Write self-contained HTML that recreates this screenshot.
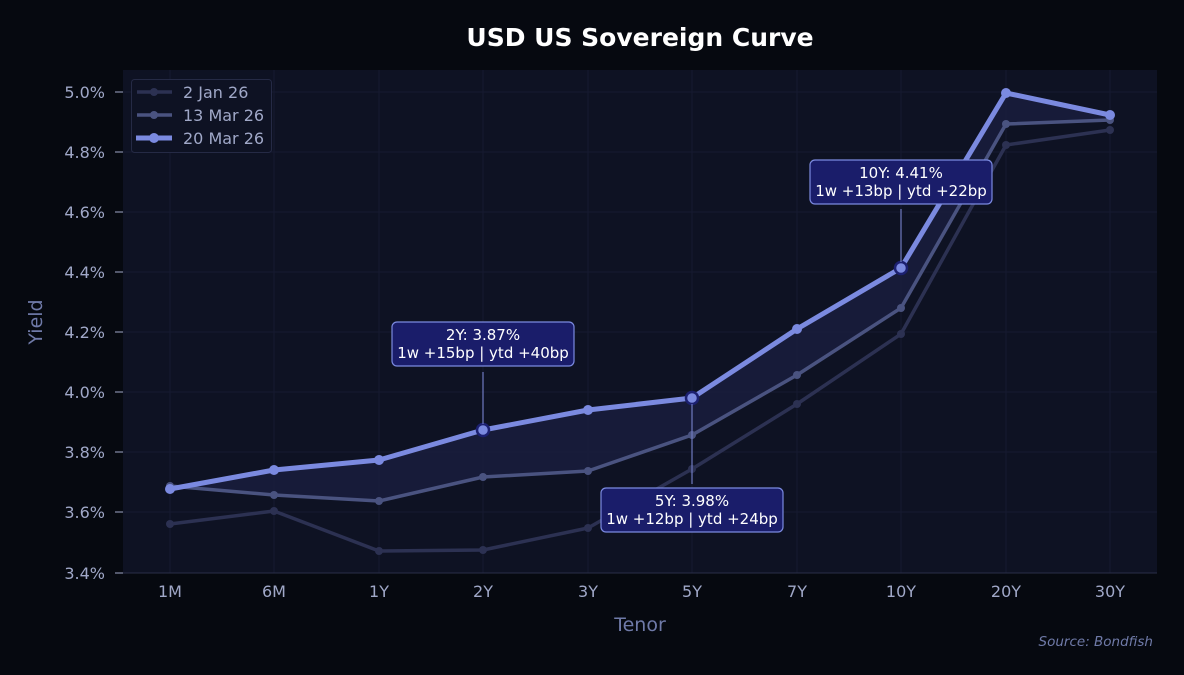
<!DOCTYPE html>
<html><head><meta charset="utf-8"><style>
html,body{margin:0;padding:0;background:#070a12;}
svg{display:block;font-family:"DejaVu Sans","Liberation Sans",sans-serif;}
</style></head><body>
<svg width="1184" height="675" viewBox="0 0 1184 675">
<rect width="1184" height="675" fill="#060910"/>
<text x="640" y="46" text-anchor="middle" fill="#ffffff" font-size="25" font-weight="bold">USD US Sovereign Curve</text>
<rect x="123" y="70" width="1034" height="503" fill="#0e1223"/>
<g stroke="#161a30" stroke-width="1">
<line x1="123" x2="1157" y1="92" y2="92"/><line x1="123" x2="1157" y1="152" y2="152"/><line x1="123" x2="1157" y1="212" y2="212"/><line x1="123" x2="1157" y1="272" y2="272"/><line x1="123" x2="1157" y1="332" y2="332"/><line x1="123" x2="1157" y1="392" y2="392"/><line x1="123" x2="1157" y1="452" y2="452"/><line x1="123" x2="1157" y1="512" y2="512"/>
<line y1="70" y2="573" x1="170" x2="170"/><line y1="70" y2="573" x1="274" x2="274"/><line y1="70" y2="573" x1="379" x2="379"/><line y1="70" y2="573" x1="483" x2="483"/><line y1="70" y2="573" x1="588" x2="588"/><line y1="70" y2="573" x1="692" x2="692"/><line y1="70" y2="573" x1="797" x2="797"/><line y1="70" y2="573" x1="901" x2="901"/><line y1="70" y2="573" x1="1006" x2="1006"/><line y1="70" y2="573" x1="1110" x2="1110"/>
</g>
<line x1="123" x2="1157" y1="573" y2="573" stroke="#2a2f48"/>
<g fill="#a0a8c8" font-size="16" text-anchor="end">
<text x="105" y="98">5.0%</text><text x="105" y="158">4.8%</text><text x="105" y="218">4.6%</text><text x="105" y="278">4.4%</text><text x="105" y="338">4.2%</text><text x="105" y="398">4.0%</text><text x="105" y="458">3.8%</text><text x="105" y="518">3.6%</text><text x="105" y="579">3.4%</text>
</g>
<g stroke="#a0a8c8"><line x1="115" x2="123" y1="92" y2="92"/><line x1="115" x2="123" y1="152" y2="152"/><line x1="115" x2="123" y1="212" y2="212"/><line x1="115" x2="123" y1="272" y2="272"/><line x1="115" x2="123" y1="332" y2="332"/><line x1="115" x2="123" y1="392" y2="392"/><line x1="115" x2="123" y1="452" y2="452"/><line x1="115" x2="123" y1="512" y2="512"/><line x1="115" x2="123" y1="573" y2="573"/></g>
<g fill="#a0a8c8" font-size="16" text-anchor="middle">
<text x="170" y="597">1M</text><text x="274" y="597">6M</text><text x="379" y="597">1Y</text><text x="483" y="597">2Y</text><text x="588" y="597">3Y</text><text x="692" y="597">5Y</text><text x="797" y="597">7Y</text><text x="901" y="597">10Y</text><text x="1006" y="597">20Y</text><text x="1110" y="597">30Y</text>
</g>
<text x="640" y="631" text-anchor="middle" fill="#6f7aa8" font-size="19">Tenor</text>
<text x="42" y="322" text-anchor="middle" fill="#6f7aa8" font-size="19" transform="rotate(-90 42 322)">Yield</text>
<text x="1153" y="646" text-anchor="end" fill="#6f7aa8" font-size="13.5" font-style="italic">Source: Bondfish</text>
<polygon fill="#1a1e3e" opacity="0.8" points="170,489 274,470 379,460 483,430 588,410 692,398 797,329 901,268 1006,93 1110,115 1110,120 1006,124 901,308 797,375 692,435 588,471 483,477 379,501 274,495 170,486"/>
<g fill="none" stroke-linejoin="round">
<polyline stroke="#2c3152" stroke-width="3.5" points="170,524 274,511 379,551 483,550 588,528 692,469 797,404 901,334 1006,145 1110,130"/>
<polyline stroke="#4a5380" stroke-width="3.5" points="170,486 274,495 379,501 483,477 588,471 692,435 797,375 901,308 1006,124 1110,120"/>
<polyline stroke="#7b8ae0" stroke-width="5" points="170,489 274,470 379,460 483,430 588,410 692,398 797,329 901,268 1006,93 1110,115"/>
</g>
<g fill="#2c3152"><circle cx="170" cy="524" r="4"/><circle cx="274" cy="511" r="4"/><circle cx="379" cy="551" r="4"/><circle cx="483" cy="550" r="4"/><circle cx="588" cy="528" r="4"/><circle cx="692" cy="469" r="4"/><circle cx="797" cy="404" r="4"/><circle cx="901" cy="334" r="4"/><circle cx="1006" cy="145" r="4"/><circle cx="1110" cy="130" r="4"/></g>
<g fill="#4a5380"><circle cx="170" cy="486" r="4"/><circle cx="274" cy="495" r="4"/><circle cx="379" cy="501" r="4"/><circle cx="483" cy="477" r="4"/><circle cx="588" cy="471" r="4"/><circle cx="692" cy="435" r="4"/><circle cx="797" cy="375" r="4"/><circle cx="901" cy="308" r="4"/><circle cx="1006" cy="124" r="4"/><circle cx="1110" cy="120" r="4"/></g>
<g fill="#7b8ae0"><circle cx="170" cy="489" r="5"/><circle cx="274" cy="470" r="5"/><circle cx="379" cy="460" r="5"/><circle cx="588" cy="410" r="5"/><circle cx="797" cy="329" r="5"/><circle cx="1006" cy="93" r="5"/><circle cx="1110" cy="115" r="5"/></g>
<g fill="#7b8ae0" stroke="#1c2070" stroke-width="2.5"><circle cx="483" cy="430" r="6"/><circle cx="692" cy="398" r="6"/><circle cx="901" cy="268" r="6"/></g>
<g stroke="#6f7ac0" stroke-width="1.2"><line x1="483" x2="483" y1="372" y2="424"/><line x1="692" x2="692" y1="404" y2="484"/><line x1="901" x2="901" y1="209" y2="262"/></g>
<g fill="#1a1d6a" stroke="#7b8ae0" stroke-width="1.2">
<rect x="392" y="322" width="182" height="44" rx="5"/>
<rect x="601" y="488" width="182" height="44" rx="5"/>
<rect x="810" y="160" width="182" height="44" rx="5"/>
</g>
<g fill="#ffffff" font-size="15" text-anchor="middle">
<text x="483" y="340">2Y: 3.87%</text><text x="483" y="358">1w +15bp | ytd +40bp</text>
<text x="692" y="506">5Y: 3.98%</text><text x="692" y="524">1w +12bp | ytd +24bp</text>
<text x="901" y="178">10Y: 4.41%</text><text x="901" y="196">1w +13bp | ytd +22bp</text>
</g>
<rect x="131.5" y="79.5" width="140" height="73" rx="3" fill="#0e1223" stroke="#252a45"/>
<line x1="137" x2="172" y1="92" y2="92" stroke="#2c3152" stroke-width="3.5"/><circle cx="154" cy="92" r="4" fill="#2c3152"/>
<line x1="137" x2="172" y1="115" y2="115" stroke="#4a5380" stroke-width="3.5"/><circle cx="154" cy="115" r="4" fill="#4a5380"/>
<line x1="136" x2="172" y1="138" y2="138" stroke="#7b8ae0" stroke-width="5"/><circle cx="154" cy="138" r="5" fill="#7b8ae0"/>
<g fill="#a0a8c8" font-size="16"><text x="183" y="98">2 Jan 26</text><text x="183" y="121">13 Mar 26</text><text x="183" y="144">20 Mar 26</text></g>
</svg>
</body></html>
